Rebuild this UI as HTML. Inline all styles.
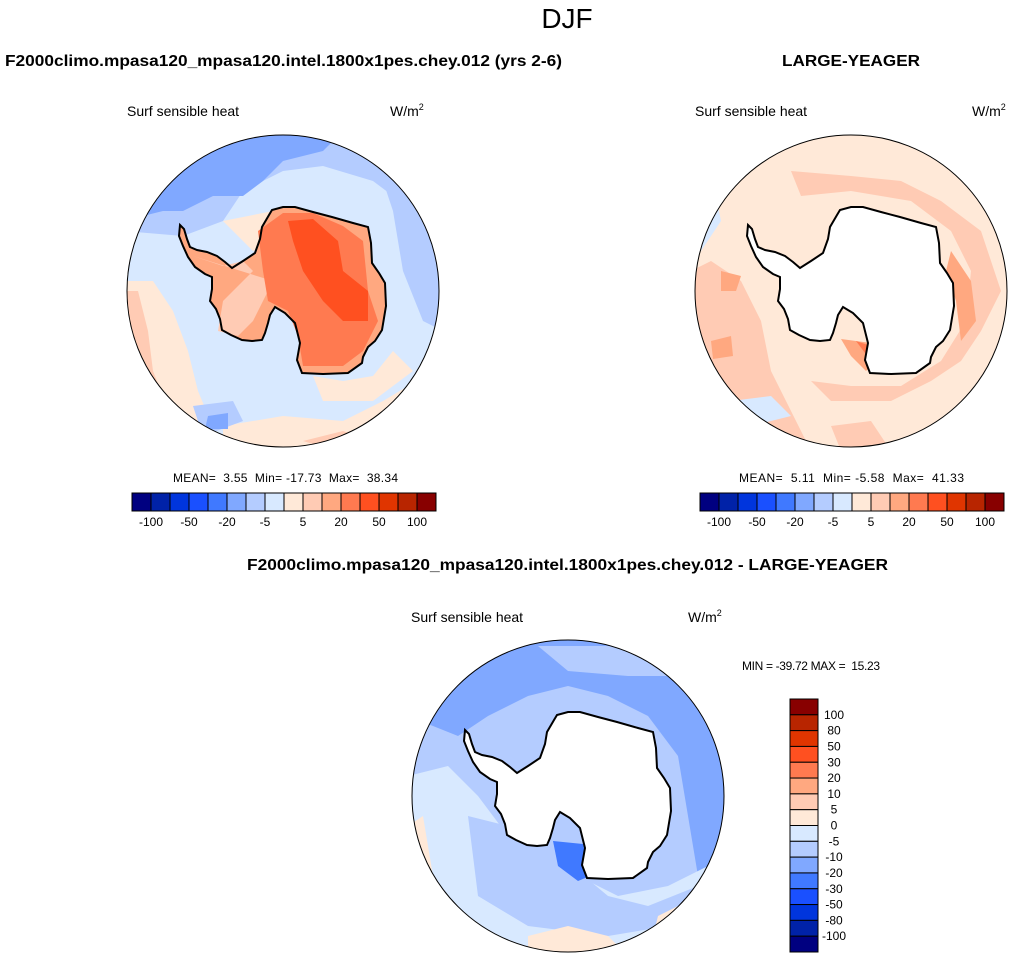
<!DOCTYPE html>
<html><head><meta charset="utf-8">
<style>
body{margin:0;background:#fff;}
svg{display:block;font-family:"Liberation Sans",Arial,sans-serif;}
text{white-space:pre;}
</style></head>
<body>
<svg id="root" width="1014" height="961" viewBox="0 0 1014 961" xmlns="http://www.w3.org/2000/svg">
<defs>
<clipPath id="circ"><circle cx="0" cy="0" r="156"/></clipPath>
<path id="ant" d="M-103,-66 L-99,-62 L-96,-52 L-93,-44 L-86,-41 L-76,-39 L-66,-35 L-58,-29 L-51,-23 L-40,-30 L-28,-38 L-23,-52 L-21,-64 L-14,-76 L-11,-81 L0,-84 L12,-84 L30,-79 L49,-74 L70,-68 L85,-64 L88,-48 L89,-28 L96,-18 L102,-8 L103,15 L99,39 L92,50 L85,56 L80,66 L79,72 L65,82 L40,83 L19,82 L14,69 L17,52 L12,32 L2,22 L-8,16 L-13,24 L-15,32 L-18,42 L-21,49 L-31,50 L-41,49 L-52,44 L-61,39 L-63,28 L-67,18 L-73,10 L-71,-2 L-71,-14 L-78,-17 L-88,-24 L-95,-34 L-100,-45 L-104,-55 Z"/>
</defs>

<text x="567" y="28" font-size="28" text-anchor="middle">DJF</text>

<g>
<text x="5" y="66" font-size="16" font-weight="bold" textLength="557" lengthAdjust="spacingAndGlyphs">F2000climo.mpasa120_mpasa120.intel.1800x1pes.chey.012 (yrs 2-6)</text>
<text x="127" y="116" font-size="14">Surf sensible heat</text>
<text x="390" y="116" font-size="14">W/m<tspan font-size="9" dy="-6">2</tspan></text>
<g transform="translate(283,291)">
 <g clip-path="url(#circ)">
  <rect x="-160" y="-160" width="320" height="320" fill="#d8e9ff"/>
  <path d="M-160,-160 L160,-160 L160,-60 L130,-80 L90,-110 L40,-125 L0,-120 L-40,-100 L-60,-70 L-100,-55 L-160,-60 Z" fill="#b4ccff"/>
  <path d="M-160,-160 L60,-160 L40,-140 L0,-130 L-20,-110 L-40,-95 L-70,-95 L-100,-80 L-120,-80 L-160,-70 Z" fill="#80a8ff"/>
  <path d="M100,-110 L140,-100 L160,-60 L160,40 L140,30 L120,-20 L110,-80 Z" fill="#b4ccff"/>
  <path d="M-160,-10 L-130,-10 L-110,20 L-95,60 L-85,100 L-60,160 L-160,160 Z" fill="#ffe9d8"/>
  <path d="M-160,0 L-145,0 L-135,40 L-130,80 L-110,130 L-130,160 L-160,160 Z" fill="#ffcbb4"/>
  <path d="M-60,135 L0,125 L60,130 L100,110 L150,80 L160,160 L-60,160 Z" fill="#ffe9d8"/>
  <path d="M20,150 L60,140 L90,150 L70,165 Z" fill="#ffcbb4"/>
  <path d="M-90,115 L-50,110 L-40,130 L-80,145 Z" fill="#b4ccff"/>
  <path d="M-75,125 L-55,122 L-55,138 L-78,138 Z" fill="#80a8ff"/>
  <path d="M30,85 L60,90 L90,85 L110,60 L130,80 L90,110 L40,110 Z" fill="#ffe9d8"/>
  <path d="M-60,-70 L-10,-80 L30,-80 L20,-60 L-30,-40 Z" fill="#ffe9d8"/>
  <use href="#ant" fill="#ffa880"/>
  <path d="M-90,-35 L-60,-25 L-40,-30 L-30,-20 L-60,10 L-65,40 L-45,45 L-30,30 L-20,10 L-10,-10 Z" fill="#ffcbb4"/>
  <path d="M-25,-60 L0,-78 L30,-78 L60,-65 L80,-50 L85,0 L95,30 L80,60 L60,75 L20,75 L15,45 L5,20 L-15,10 L-20,-20 Z" fill="#ff7a50"/>
  <path d="M5,-70 L30,-72 L55,-50 L60,-20 L85,0 L85,30 L60,30 L40,10 L20,-20 L10,-50 Z" fill="#ff5020"/>
  <use href="#ant" fill="none" stroke="#000" stroke-width="2"/>
 </g>
 <circle cx="0" cy="0" r="156" fill="none" stroke="#000" stroke-width="1"/>
</g>
<text x="173" y="482" font-size="12" textLength="225" lengthAdjust="spacing">MEAN=  3.55  Min= -17.73  Max=  38.34</text>
<g id="cbarLeft"></g>
</g>

<g>
<text x="851" y="66" font-size="16" font-weight="bold" text-anchor="middle" textLength="138" lengthAdjust="spacingAndGlyphs">LARGE-YEAGER</text>
<text x="695" y="116" font-size="14">Surf sensible heat</text>
<text x="972" y="116" font-size="14">W/m<tspan font-size="9" dy="-6">2</tspan></text>
<g transform="translate(851,291)">
 <g clip-path="url(#circ)">
  <rect x="-160" y="-160" width="320" height="320" fill="#ffe9d8"/>
  <path d="M-160,-20 L-140,-30 L-110,-10 L-90,30 L-80,80 L-60,120 L-40,160 L-160,160 Z" fill="#ffcbb4"/>
  <path d="M-160,-130 L-140,-120 L-130,-70 L-150,-40 L-160,-40 Z" fill="#d8e9ff"/>
  <path d="M-60,-120 L0,-115 L50,-110 L90,-90 L130,-60 L150,0 L130,40 L110,70 L80,90 L40,110 L-20,110 L-40,90 L0,95 L50,95 L90,70 L115,30 L120,-20 L100,-60 L60,-90 L0,-100 L-50,-95 Z" fill="#ffcbb4"/>
  <path d="M100,-40 L120,-10 L125,30 L110,50 L105,10 L95,-20 Z" fill="#ffa880"/>
  <path d="M-130,-20 L-110,-15 L-115,0 L-130,0 Z" fill="#ffa880"/>
  <path d="M-140,50 L-120,45 L-118,65 L-138,68 Z" fill="#ffa880"/>
  <path d="M-10,48 L20,52 L25,70 L15,80 L0,65 Z" fill="#ffa880"/>
  <path d="M5,50 L20,55 L20,70 Z" fill="#ff7a50"/>
  <path d="M-120,110 L-80,105 L-60,125 L-100,135 Z" fill="#d8e9ff"/>
  <path d="M-20,135 L20,130 L40,160 L-10,160 Z" fill="#ffcbb4"/>
  <use href="#ant" fill="#fff"/>
  <use href="#ant" fill="none" stroke="#000" stroke-width="2"/>
 </g>
 <circle cx="0" cy="0" r="156" fill="none" stroke="#000" stroke-width="1"/>
</g>
<text x="739" y="482" font-size="12" textLength="225" lengthAdjust="spacing">MEAN=  5.11  Min= -5.58  Max=  41.33</text>
<g id="cbarRight"></g>
</g>

<g>
<text x="247" y="570" font-size="16" font-weight="bold" textLength="641" lengthAdjust="spacingAndGlyphs">F2000climo.mpasa120_mpasa120.intel.1800x1pes.chey.012 - LARGE-YEAGER</text>
<text x="411" y="622" font-size="14">Surf sensible heat</text>
<text x="688" y="622" font-size="14">W/m<tspan font-size="9" dy="-6">2</tspan></text>
<g transform="translate(568,796)">
 <g clip-path="url(#circ)">
  <rect x="-160" y="-160" width="320" height="320" fill="#b4ccff"/>
  <path d="M-160,-160 L160,-160 L160,60 L130,80 L120,20 L110,-40 L80,-80 L40,-100 L0,-110 L-40,-100 L-80,-80 L-110,-60 L-160,-80 Z" fill="#80a8ff"/>
  <path d="M-30,-150 L60,-150 L100,-120 L60,-120 L0,-125 Z" fill="#b4ccff"/>
  <path d="M-160,-20 L-120,-30 L-90,0 L-60,40 L-30,70 L20,85 L50,100 L100,90 L140,70 L160,80 L160,160 L-160,160 Z" fill="#d8e9ff"/>
  <path d="M-100,20 L-60,30 L-30,60 L10,75 L40,100 L80,110 L130,90 L100,130 L40,140 L-40,130 L-90,100 Z" fill="#b4ccff"/>
  <path d="M-160,30 L-145,20 L-135,80 L-110,160 L-160,160 Z" fill="#ffe9d8"/>
  <path d="M-40,140 L0,130 L40,140 L60,160 L-40,160 Z" fill="#ffe9d8"/>
  <path d="M90,120 L150,90 L160,160 L80,160 Z" fill="#ffe9d8"/>
  <path d="M-15,45 L15,48 L22,80 L10,85 L-10,70 Z" fill="#4079ff"/>
  <use href="#ant" fill="#fff"/>
  <use href="#ant" fill="none" stroke="#000" stroke-width="2"/>
 </g>
 <circle cx="0" cy="0" r="156" fill="none" stroke="#000" stroke-width="1"/>
</g>
<text x="742" y="670" font-size="12" textLength="138" lengthAdjust="spacing">MIN = -39.72 MAX =  15.23</text>
<g id="cbarDiff"></g>
</g>
</svg>
<script>
const mainLevels = [-100,-80,-50,-30,-20,-10,-5,0,5,10,20,30,50,80,100];
const mainTickLabels = ["-100","-50","-20","-5","5","20","50","100"];
const diffLevels = [100,80,50,30,20,10,5,0,-5,-10,-20,-30,-50,-80,-100];
const colors = ['#000080','#0022a8','#0035dd','#1a50ff','#4079ff','#80a8ff','#b4ccff','#d8e9ff','#ffe9d8','#ffcbb4','#ffa880','#ff7a50','#ff5020','#e03500','#b82500','#880000'];
const NS = 'http://www.w3.org/2000/svg';
function mk(tag, attrs){const e=document.createElementNS(NS,tag);for(const k in attrs)e.setAttribute(k,attrs[k]);return e;}
function hbar(id, x0, y0, w, h){
  const g=document.getElementById(id);
  const n=colors.length, bw=w/n;
  colors.forEach((c,i)=>{
    const r=mk('rect',{x:x0+i*bw,y:y0,width:bw,height:h,fill:c,stroke:'#000','stroke-width':1});
    
    
    g.appendChild(r);
  });
  mainTickLabels.forEach((lab)=>{
    const idx=mainLevels.indexOf(Number(lab));
    const t=mk('text',{x:x0+(idx+1)*bw,y:y0+h+15,'font-size':12,'text-anchor':'middle'});
    t.textContent=lab;
    
    
    g.appendChild(t);
  });
}
hbar('cbarLeft',132,493,304,18);
hbar('cbarRight',700,493,304,18);
(function(){
  const g=document.getElementById('cbarDiff');
  const x0=790,y0=699,w=28,h=253,n=colors.length,bh=h/n;
  const rev=colors.slice().reverse();
  rev.forEach((c,i)=>{
    const r=mk('rect',{x:x0,y:y0+i*bh,width:w,height:bh,fill:c,stroke:'#000','stroke-width':1});
    
    
    g.appendChild(r);
  });
  diffLevels.forEach((v,i)=>{
    const t=mk('text',{x:x0+w+16,y:y0+(i+1)*bh+4,'font-size':12,'text-anchor':'middle'});
    t.textContent=String(v);
    
    
    g.appendChild(t);
  });
})();
</script>
</body></html>
